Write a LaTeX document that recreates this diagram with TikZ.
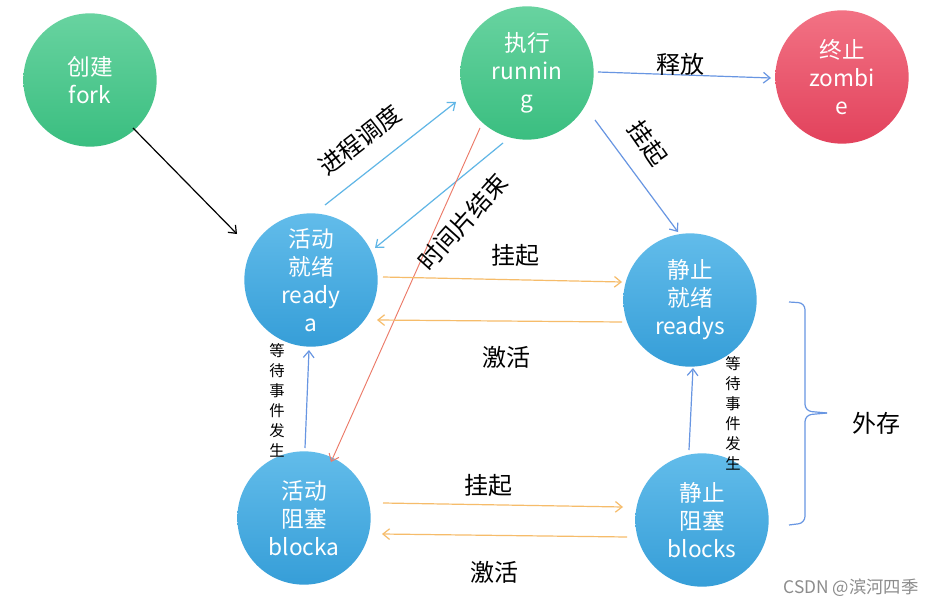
\documentclass[tikz,border=0pt]{standalone}
\usepackage{fontspec}
\setmainfont{Noto Sans CJK SC}
\usetikzlibrary{arrows.meta,calc}
\definecolor{gtop}{RGB}{104,211,160}
\definecolor{gbot}{RGB}{58,190,128}
\definecolor{rtop}{RGB}{242,114,132}
\definecolor{rbot}{RGB}{226,66,92}
\definecolor{btop}{RGB}{98,188,234}
\definecolor{bbot}{RGB}{54,158,216}
\definecolor{lblue}{RGB}{96,182,230}
\definecolor{sblue}{RGB}{104,150,226}
\definecolor{orng}{RGB}{246,188,106}
\definecolor{redl}{RGB}{236,122,104}
\tikzset{
  state/.style={circle, minimum size=100pt, inner sep=0pt, align=center, text=white,
    font=\fontsize{17}{21}\selectfont},
  gstate/.style={state, top color=gtop, bottom color=gbot},
  rstate/.style={state, top color=rtop, bottom color=rbot},
  bstate/.style={state, top color=btop, bottom color=bbot},
  conn/.style={line width=0.9pt, -{Straight Barb[length=5pt,width=8pt]}},
  lbl/.style={font=\fontsize{18}{21}\selectfont, text=black},
  vlbl/.style={font=\fontsize{11.5}{15}\selectfont, align=center, text=black},
}
\begin{document}
\begin{tikzpicture}[x=0.75pt,y=-0.75pt]
\useasboundingbox (0,0) rectangle (935,606);
\fill[white] (0,0) rectangle (935,606);
% states
\node[gstate] (fork) at (90,80) {创建\\fork};
\node[gstate] (running) at (527,73) {执行\\runnin\\g};
\node[rstate] (zombie) at (842,77) {终止\\zombi\\e};
\node[bstate] (readya) at (311,280) {活动\\就绪\\ready\\a};
\node[bstate] (readys) at (690,300) {静止\\就绪\\readys};
\node[bstate] (blocka) at (304,518) {活动\\阻塞\\blocka};
\node[bstate] (blocks) at (702,520) {静止\\阻塞\\blocks};
% connectors
\draw[conn, black] ($(fork)+(43,48)$) -- ($(readya)+(-74,-46)$);
\draw[conn, sblue] ($(running)+(71,-1)$) -- ($(zombie)+(-71,1)$);
\draw[conn, sblue] ($(running)+(68,47)$) -- ($(readys)+(-12,-68)$);
\draw[conn, lblue] ($(readya)+(14,-75)$) -- ($(running)+(-71,29)$);
\draw[conn, lblue] ($(running)+(-24,70)$) -- ($(readya)+(64,-32)$);
\draw[conn, redl, line width=0.7pt] ($(running)+(-47,55)$) -- ($(blocka)+(27,-56)$);
\draw[conn, orng] ($(readya)+(72,-3)$) -- ($(readys)+(-68,-18)$);
\draw[conn, orng] ($(readys)+(-68,22)$) -- ($(readya)+(66,40)$);
\draw[conn, sblue] ($(blocka)+(1,-70)$) -- ($(readya)+(-2,70)$);
\draw[conn, sblue] ($(blocks)+(-13,-70)$) -- ($(readys)+(3,68)$);
\draw[conn, orng] ($(blocka)+(79,-15)$) -- ($(blocks)+(-79,-13)$);
\draw[conn, orng] ($(blocks)+(-75,17)$) -- ($(blocka)+(78,16)$);
% labels
\node[lbl] (l1) at (680,64) {释放};
\node[lbl, rotate=-55] (l2) at (648,143) {挂起};
\node[lbl, rotate=38] (l3) at (360,140) {进程调度};
\node[lbl, rotate=48] (l4) at (463,222) {时间片结束};
\node[lbl] (l5) at (515,255) {挂起};
\node[lbl] (l6) at (506,357) {激活};
\node[lbl] (l7) at (488,485) {挂起};
\node[lbl] (l8) at (494,572) {激活};
\node[vlbl] (v1) at (277,400) {等\\待\\事\\件\\发\\生};
\node[vlbl] (v2) at (733,413) {等\\待\\事\\件\\发\\生};
% brace
\draw[sblue, line width=0.9pt, rounded corners=5pt]
  (789,302) -- (805,303) -- (805,411) -- (827,413);
\draw[sblue, line width=0.9pt, rounded corners=5pt]
  (827,413) -- (805,415) -- (805,523) -- (789,525);
\node[lbl] (ext) at (876,423) {外存};
\node[font=\fontsize{13}{15}\selectfont, text=black!45] (wm) at (851,588) {CSDN @滨河四季};
\end{tikzpicture}
\end{document}
